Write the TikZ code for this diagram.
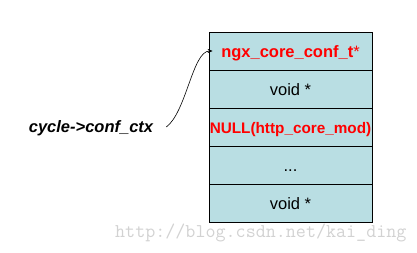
\documentclass[tikz,border=0pt]{standalone}
\usepackage{fontspec}
\setmainfont{Liberation Sans}
\usetikzlibrary{arrows.meta}
\definecolor{cellfill}{RGB}{185,222,227}
\definecolor{wmgray}{RGB}{210,210,210}
\tikzset{
  cell/.style={draw=black, line width=0.8pt, fill=cellfill, minimum width=163pt, minimum height=38pt, inner sep=0pt, text height=12.5pt, text depth=0pt, font=\fontsize{16.5pt}{18pt}\selectfont},
  redtext/.style={text=red, font=\fontsize{16.5pt}{18pt}\selectfont\bfseries},
}
\begin{document}
\begin{tikzpicture}[x=1pt,y=1pt]
\useasboundingbox (0,0) rectangle (417,252);
\node[cell, redtext] (r1) at (290.5,201) {ngx\_core\_conf\_t{\mdseries*}};
\node[cell] (r2) at (290.5,163) {void *};
\node[cell, text=red, font=\fontsize{15.3pt}{18pt}\selectfont\bfseries] (r3) at (290.5,125) {NULL(http\_core\_mod)};
\node[cell] (r4) at (290.5,87) {...};
\node[cell] (r5) at (290.5,49) {void *};
\node[font=\fontsize{16.5pt}{18pt}\selectfont\bfseries\itshape, inner sep=0pt] (lbl) at (91,124) {cycle->conf\_ctx};
\coordinate (start) at ([xshift=13pt,yshift=1pt]lbl.east);
\coordinate (end) at ([xshift=4pt]r1.west);
\draw[line width=0.6pt, -{Stealth[length=5pt,width=4pt]}] (start) .. controls ([xshift=20pt,yshift=15pt]start) and ([xshift=-20pt]end) .. (end);
\node[font=\ttfamily\fontsize{19.5pt}{20pt}\selectfont, text=wmgray, anchor=base west, inner sep=0pt] (wm) at (115,15) {http://blog.csdn.net/kai\_ding};
\end{tikzpicture}
\end{document}
